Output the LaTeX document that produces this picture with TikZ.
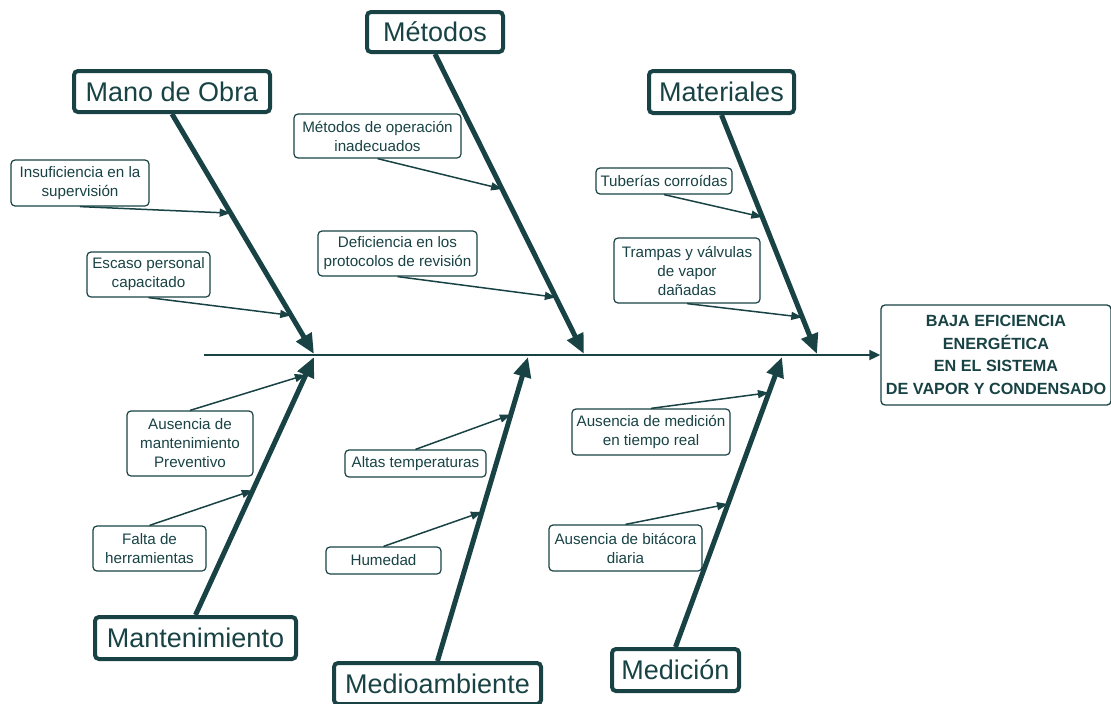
\documentclass[tikz,border=0pt]{standalone}
\usepackage{fontspec}
\setmainfont{Liberation Sans}
\usetikzlibrary{arrows.meta,calc}
\definecolor{fb}{RGB}{24,66,68}
\begin{document}
\begin{tikzpicture}[x=1pt,y=-1pt,
  cat/.style={draw=fb, line width=4pt, rounded corners=4pt, text=fb, font=\fontsize{27}{31}\selectfont, inner sep=0pt, align=center},
  cause/.style={draw=fb, line width=1.2pt, rounded corners=4pt, text=fb, font=\fontsize{15.2}{19}\selectfont, inner sep=0pt, align=center},
  headbox/.style={draw=fb, line width=1.3pt, rounded corners=4pt, text=fb, font=\bfseries\fontsize{16.2}{22.7}\selectfont, inner sep=0pt, align=center},
  bone/.style={draw=fb, line width=5pt, -{Triangle[length=20pt,width=17pt]}},
  sub/.style={draw=fb, line width=1.5pt, -{Triangle[length=11pt,width=8pt]}},
  spine/.style={draw=fb, line width=1.8pt, -{Triangle[length=11pt,width=10pt]}}]
\useasboundingbox (0,0) rectangle (1111,704);

% head
\node[headbox, minimum width=230pt, minimum height=100pt] (head) at (996,355)
  {BAJA EFICIENCIA\\ENERG\'ETICA\\EN EL SISTEMA\\DE VAPOR Y CONDENSADO};
\coordinate (sp) at (204,355);
\draw[spine] (sp) -- (head.west);

% categories
\node[cat, minimum width=136pt, minimum height=40pt] (met) at (435,32) {Métodos};
\node[cat, minimum width=196pt, minimum height=41pt] (mo) at (172,91.5) {Mano de Obra};
\node[cat, minimum width=145pt, minimum height=42pt] (mat) at (721.5,92) {Materiales};
\node[cat, minimum width=201pt, minimum height=42pt] (man) at (195.5,638) {Mantenimiento};
\node[cat, minimum width=207pt, minimum height=41pt] (medi) at (437.5,683.5) {Medioambiente};
\node[cat, minimum width=127pt, minimum height=42pt] (med) at (675.5,670) {Medición};

% bone tips
\coordinate (tMO) at (314,354);
\coordinate (tMET) at (584,354);
\coordinate (tMAT) at (817,354);
\coordinate (tMAN) at (314,357);
\coordinate (tMEDI) at (528,357);
\coordinate (tMED) at (782,357);

\draw[bone] (mo.south) -- (tMO);
\draw[bone] (met.south) -- (tMET);
\draw[bone] (mat.south) -- (tMAT);
\draw[bone] (man.north) -- (tMAN);
\draw[bone] (medi.north) -- (tMEDI);
\draw[bone] (med.north) -- (tMED);

% points on bones
\coordinate (pMO1) at ($(mo.south)!0.413!(tMO)$);
\coordinate (pMO2) at ($(mo.south)!0.839!(tMO)$);
\coordinate (pMET1) at ($(met.south)!0.45!(tMET)$);
\coordinate (pMET2) at ($(met.south)!0.811!(tMET)$);
\coordinate (pMAT1) at ($(mat.south)!0.427!(tMAT)$);
\coordinate (pMAT2) at ($(mat.south)!0.846!(tMAT)$);
\coordinate (pMAN1) at ($(man.north)!0.931!(tMAN)$);
\coordinate (pMAN2) at ($(man.north)!0.483!(tMAN)$);
\coordinate (pMEDI1) at ($(medi.north)!0.81!(tMEDI)$);
\coordinate (pMEDI2) at ($(medi.north)!0.49!(tMEDI)$);
\coordinate (pMED1) at ($(med.north)!0.877!(tMED)$);
\coordinate (pMED2) at ($(med.north)!0.493!(tMED)$);

% causes
\node[cause, minimum width=167pt, minimum height=44pt] (c1) at (377.5,136) {Métodos de operación\\inadecuados};
\node[cause, minimum width=159pt, minimum height=45pt] (c2) at (397.5,253.5) {Deficiencia en los\\protocolos de revisión};
\node[cause, minimum width=138pt, minimum height=46pt] (c3) at (80,183) {Insuficiencia en la\\supervisión};
\node[cause, minimum width=123pt, minimum height=45pt] (c4) at (148.5,274.5) {Escaso personal\\capacitado};
\node[cause, minimum width=136pt, minimum height=26pt] (c5) at (664,181) {Tuberías corroídas};
\node[cause, minimum width=146pt, minimum height=65pt] (c6) at (687,270.5) {Trampas y válvulas\\de vapor\\dañadas};
\node[cause, minimum width=126pt, minimum height=65pt] (c7) at (190,443.5) {Ausencia de\\mantenimiento\\Preventivo};
\node[cause, minimum width=113pt, minimum height=45pt] (c8) at (149.5,548.5) {Falta de\\herramientas};
\node[cause, minimum width=141pt, minimum height=27pt] (c9) at (415.5,463.5) {Altas temperaturas};
\node[cause, minimum width=115pt, minimum height=27pt] (c10) at (383.5,560.5) {Humedad};
\node[cause, minimum width=158pt, minimum height=46pt] (c11) at (651,432) {Ausencia de medición\\en tiempo real};
\node[cause, minimum width=153pt, minimum height=46pt] (c12) at (625.5,548) {Ausencia de bitácora\\diaria};

\draw[sub] (c1.south) -- (pMET1);
\draw[sub] (c2.south) -- (pMET2);
\draw[sub] (c3.south) -- (pMO1);
\draw[sub] (c4.south) -- (pMO2);
\draw[sub] (c5.south) -- (pMAT1);
\draw[sub] (c6.south) -- (pMAT2);
\draw[sub] (c7.north) -- (pMAN1);
\draw[sub] (c8.north) -- (pMAN2);
\draw[sub] (c9.north) -- (pMEDI1);
\draw[sub] (c10.north) -- (pMEDI2);
\draw[sub] (c11.north) -- (pMED1);
\draw[sub] (c12.north) -- (pMED2);
\end{tikzpicture}
\end{document}
